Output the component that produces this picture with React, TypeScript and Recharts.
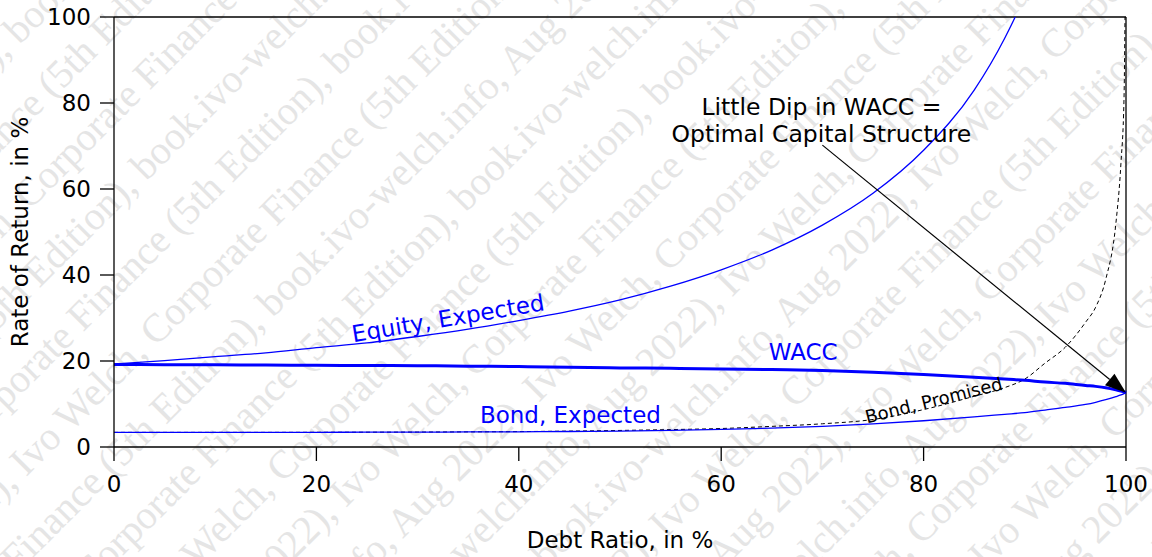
import React from 'react';
import {
  LineChart,
  Line,
  XAxis,
  YAxis,
  ReferenceLine,
  ReferenceDot,
} from 'recharts';

// debt ratio (x), in %
const debtRatio = [
  0, 5, 10, 15, 20, 25, 30, 35, 40, 45, 50, 55, 60, 65, 70, 75, 80, 85, 88, 90,
  92, 94, 96, 97, 98, 99, 99.5, 99.8, 100,
];

// rates of return, in %
const equityExpected = [
  19.3, 20.1, 21.0, 21.9, 23.1, 24.2, 25.7, 27.4, 29.4, 31.6, 34.2, 37.4, 41.2,
  45.8, 51.6, 59.0, 69.0, 83.0, 95.0, 105, 118, null, null, null, null, null,
  null, null, null,
];
const wacc = [
  19.2, 19.15, 19.1, 19.05, 19.0, 18.95, 18.9, 18.8, 18.7, 18.55, 18.4, 18.3,
  18.15, 18.0, 17.8, 17.4, 16.85, 16.2, 15.8, 15.5, 15.1, 14.8, 14.3, 14.1,
  13.8, 13.3, 13.0, 12.8, 12.6,
];
const bondExpected = [
  3.4, 3.4, 3.4, 3.4, 3.42, 3.44, 3.46, 3.5, 3.53, 3.6, 3.7, 3.85, 4.1, 4.4,
  4.8, 5.4, 6.1, 7.0, 7.6, 8.0, 8.6, 9.2, 9.9, 10.4, 11.0, 11.7, 12.1, 12.4,
  12.6,
];
const bondPromised = [
  3.4, 3.4, 3.4, 3.4, 3.42, 3.44, 3.47, 3.52, 3.58, 3.7, 3.85, 4.05, 4.3, 4.8,
  5.4, 6.4, 8.7, 11.8, 13.8, 15.8, 19.5, 23.2, 29.0, 32.5, 39.0, 52.0, 66.0,
  80.7, 130,
];

const xTicks = [0, 20, 40, 60, 80, 100];
const yTicks = [0, 20, 40, 60, 80, 100];

const data = debtRatio.map((d, i) => ({
  debt: d,
  equity: equityExpected[i],
  wacc: wacc[i],
  bondExp: bondExpected[i],
  bondProm: bondPromised[i],
}));

const FONT = 'DejaVu Sans, sans-serif';
const BLUE = '#0000ff';

// in-plot text labels, anchored in data coordinates
const curveLabels = [
  { text: 'Equity, Expected', x: 33.0, y: 30.0, angle: -9.5, size: 23, color: BLUE },
  { text: 'WACC', x: 68.1, y: 22.1, angle: 0, size: 23, color: BLUE },
  { text: 'Bond, Expected', x: 45.1, y: 7.4, angle: 0, size: 23, color: BLUE },
  { text: 'Bond, Promised', x: 81.0, y: 10.9, angle: -14, size: 18, color: '#000' },
  { text: 'Little Dip in WACC =', x: 69.9, y: 79.2, angle: 0, size: 23.5, color: '#000' },
  { text: 'Optimal Capital Structure', x: 69.9, y: 72.8, angle: 0, size: 23.5, color: '#000' },
];

const arrowFrom = { x: 70.0, y: 70.2 };
const arrowTo = { x: 100, y: 12.6 };

const WATERMARK =
  'Ivo Welch, Corporate Finance (5th Edition), book.ivo-welch.info, Aug 2022), ';

// faint diagonal copyright text behind the chart
const Watermark: React.FC = () => {
  const rows = [];
  for (let k = -12; k <= 12; k++) {
    const shift = ((k * 211) % 640) - 1000;
    rows.push(
      <text key={k} x={shift} y={278 + k * 62}>
        {WATERMARK.repeat(3)}
      </text>
    );
  }
  return (
    <svg
      width={1152}
      height={557}
      style={{ position: 'absolute', left: 0, top: 0 }}
    >
      <g
        transform="rotate(-45 576 278)"
        fill="#e5e5e5"
        fontFamily="Liberation Serif, serif"
        fontSize={40}
      >
        {rows}
      </g>
    </svg>
  );
};

const makeTextShape = (t: typeof curveLabels[number]) => (props: any) => {
  const { cx, cy } = props;
  return (
    <text
      x={cx}
      y={cy}
      dy="0.36em"
      textAnchor="middle"
      transform={t.angle ? `rotate(${t.angle} ${cx} ${cy})` : undefined}
      fill={t.color}
      fontSize={t.size}
      fontFamily={FONT}
    >
      {t.text}
    </text>
  );
};

const ArrowShape = (props: any) => {
  const { x1, y1, x2, y2 } = props;
  const dx = x2 - x1;
  const dy = y2 - y1;
  const len = Math.sqrt(dx * dx + dy * dy);
  const ux = dx / len;
  const uy = dy / len;
  const headLen = 21;
  const headW = 7.5;
  const bx = x2 - ux * headLen;
  const by = y2 - uy * headLen;
  const px = -uy;
  const py = ux;
  return (
    <g>
      <line x1={x1} y1={y1} x2={bx} y2={by} stroke="#000" strokeWidth={1.2} />
      <polygon
        points={`${x2},${y2} ${bx + px * headW},${by + py * headW} ${bx - px * headW},${by - py * headW}`}
        fill="#000"
      />
    </g>
  );
};

const YTitle = (props: any) => {
  const { y, height } = props.viewBox;
  const cx = 20;
  const cy = y + height / 2;
  return (
    <text
      x={cx}
      y={cy}
      dy="0.36em"
      textAnchor="middle"
      transform={`rotate(-90 ${cx} ${cy})`}
      fill="#000"
      fontSize={23}
      fontFamily={FONT}
    >
      Rate of Return, in %
    </text>
  );
};

const XTitle = (props: any) => {
  const { x, width } = props.viewBox;
  return (
    <text
      x={x + width / 2}
      y={548}
      textAnchor="middle"
      fill="#000"
      fontSize={23}
      fontFamily={FONT}
    >
      Debt Ratio, in %
    </text>
  );
};

const App: React.FC = () => {
  const tickStyle = { fill: '#000', fontSize: 23, fontFamily: FONT };
  return (
    <div
      style={{
        position: 'absolute',
        left: 0,
        top: 0,
        width: 1152,
        height: 557,
        background: '#fff',
      }}
    >
      <Watermark />
      <div style={{ position: 'absolute', left: 0, top: 0 }}>
        <LineChart
          width={1152}
          height={557}
          data={data}
          margin={{ top: 17, right: 26, left: 14, bottom: 0 }}
        >
          <XAxis
            dataKey="debt"
            type="number"
            domain={[0, 100]}
            ticks={xTicks}
            tickSize={14}
            tickMargin={15}
            tick={tickStyle}
            stroke="#000"
            strokeWidth={1.3}
            height={110}
            label={<XTitle />}
          />
          <YAxis
            type="number"
            domain={[0, 100]}
            allowDataOverflow
            ticks={yTicks}
            tickSize={14}
            tickMargin={9}
            tick={tickStyle}
            stroke="#000"
            strokeWidth={1.3}
            width={100}
            label={<YTitle />}
          />
          <ReferenceLine y={100} stroke="#000" strokeWidth={1.3} />
          <ReferenceLine x={100} stroke="#000" strokeWidth={1.3} />
          <Line
            type="monotone"
            dataKey="bondProm"
            stroke="#000"
            strokeWidth={1}
            strokeDasharray="4 3"
            dot={false}
            isAnimationActive={false}
          />
          <Line
            type="monotone"
            dataKey="bondExp"
            stroke={BLUE}
            strokeWidth={1.3}
            dot={false}
            isAnimationActive={false}
          />
          <Line
            type="monotone"
            dataKey="equity"
            stroke={BLUE}
            strokeWidth={1.3}
            dot={false}
            isAnimationActive={false}
          />
          <Line
            type="monotone"
            dataKey="wacc"
            stroke={BLUE}
            strokeWidth={3}
            dot={false}
            isAnimationActive={false}
          />
          <ReferenceLine
            segment={[arrowFrom, arrowTo]}
            shape={ArrowShape}
          />
          {curveLabels.map((t) => (
            <ReferenceDot
              key={t.text}
              x={t.x}
              y={t.y}
              r={0}
              shape={makeTextShape(t)}
            />
          ))}
        </LineChart>
      </div>
    </div>
  );
};

export default App;
